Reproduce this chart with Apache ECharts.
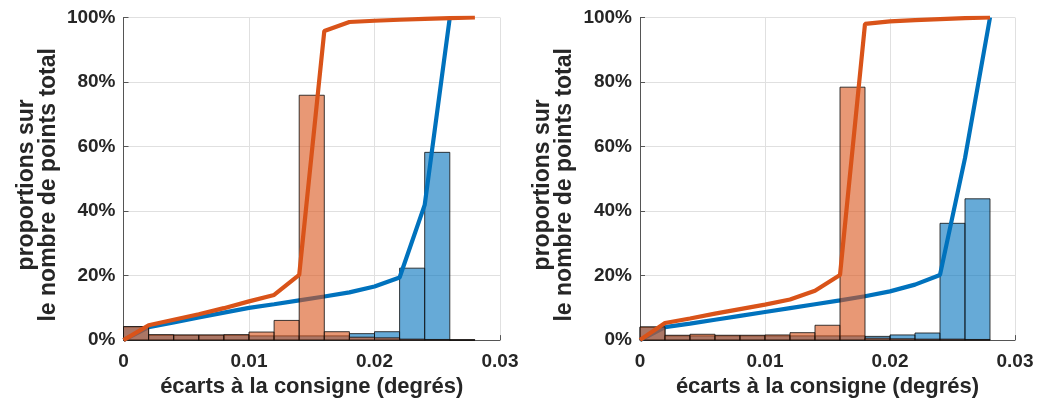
<!DOCTYPE html>
<html>
<head>
<meta charset="utf-8">
<script src="https://cdn.jsdelivr.net/npm/echarts@6/dist/echarts.min.js"></script>
<style>
html,body{margin:0;padding:0;background:#fff;}
#chart{width:1037px;height:403px;}
</style>
</head>
<body>
<div id="chart"></div>
<script>
// ---- data ----
const binEdges = [0, 0.002, 0.004, 0.006, 0.008, 0.010, 0.012, 0.014, 0.016, 0.018, 0.020, 0.022, 0.024, 0.026, 0.028];
const cdfX = [0, 0.002, 0.004, 0.006, 0.008, 0.010, 0.012, 0.014, 0.016, 0.018, 0.020, 0.022, 0.024, 0.026, 0.028];

// left panel (percent per bin)
const leftBlueBins = [4.1, 1.5, 1.5, 1.5, 1.5, 1.3, 1.3, 1.3, 1.3, 2.0, 2.6, 22.3, 58.2, 0];
const leftRedBins  = [4.2, 1.7, 1.6, 1.6, 1.7, 2.5, 6.1, 75.9, 2.6, 0.9, 0.7, 0.3, 0.2, 0.1];
const leftBlueCdf  = [0, 4.0, 5.5, 7.0, 8.5, 10.0, 11.1, 12.3, 13.5, 14.8, 16.6, 19.4, 41.9, 100];
const leftRedCdf   = [0, 4.6, 6.3, 8.0, 9.9, 12.0, 14.0, 20.2, 95.8, 98.6, 99.0, 99.3, 99.6, 99.8, 100];

// right panel
const rightBlueBins = [4.0, 1.3, 1.3, 1.3, 1.3, 1.3, 1.3, 1.3, 1.3, 1.15, 1.6, 2.2, 36.2, 43.8];
const rightRedBins  = [4.1, 1.5, 1.8, 1.5, 1.5, 1.6, 2.3, 4.6, 78.4, 0.6, 0.4, 0.3, 0.3, 0.2];
const rightBlueCdf  = [0, 4.0, 5.1, 6.3, 7.5, 8.7, 9.9, 11.1, 12.3, 13.6, 15.1, 17.2, 20.2, 56.4, 100];
const rightRedCdf   = [0, 5.3, 6.7, 8.2, 9.6, 11.0, 12.6, 15.3, 20.2, 98.0, 98.8, 99.2, 99.5, 99.8, 100];

const xTicks = [0, 0.01, 0.02, 0.03];
const yTicks = [0, 20, 40, 60, 80, 100];
const xTitle = 'écarts à la consigne (degrés)';
const yTitle = 'proportions sur\nle nombre de points total';

// ---- styles ----
const FONT = "'Liberation Sans', Arial, sans-serif";
const TXT = '#262626';
const BLUE = '#0072BD', RED = '#D95319';
const BLUE_FILL = 'rgba(0,114,189,0.6)', RED_FILL = 'rgba(217,83,25,0.6)';

function histData(vals) {
  return vals.map((v, i) => [binEdges[i], binEdges[i + 1], v]);
}
function lineData(vals) {
  return vals.map((v, i) => [cdfX[i], v]);
}
function histSeries(idx, vals, fill, z) {
  return {
    type: 'custom', xAxisIndex: idx, yAxisIndex: idx, z: z,
    data: histData(vals),
    renderItem: function (params, api) {
      const p0 = api.coord([api.value(0), api.value(2)]);
      const p1 = api.coord([api.value(1), 0]);
      return {
        type: 'rect',
        shape: { x: p0[0], y: p0[1], width: p1[0] - p0[0], height: p1[1] - p0[1] },
        style: { fill: fill, stroke: 'rgba(15,15,15,0.9)', lineWidth: 0.9 }
      };
    },
    silent: true
  };
}
function lineSeries(idx, vals, color, z) {
  return {
    type: 'line', xAxisIndex: idx, yAxisIndex: idx, z: z,
    data: lineData(vals), showSymbol: false, symbol: 'none',
    lineStyle: { color: color, width: 4.2 }, silent: true, animation: false
  };
}

const labelStyle = { color: TXT, fontFamily: FONT, fontWeight: 'bold', fontSize: 19 };
const xNameStyle = { color: TXT, fontFamily: FONT, fontWeight: 'bold', fontSize: 22, lineHeight: 22 };
const yNameStyle = { color: TXT, fontFamily: FONT, fontWeight: 'bold', fontSize: 23, lineHeight: 22, padding: [0, 12, 0, 0] };

function xAxis(idx) {
  return {
    type: 'value', gridIndex: idx, min: 0, max: 0.03, interval: 0.01,
    name: xTitle, nameLocation: 'middle', nameGap: 30, nameTextStyle: xNameStyle,
    axisLine: { show: true, onZero: false, lineStyle: { color: '#555', width: 1 } },
    axisTick: { show: true, inside: true, length: 5, lineStyle: { color: '#555' } },
    axisLabel: Object.assign({ margin: 12, formatter: v => String(xTicks.find(t => Math.abs(t - v) < 1e-9) ?? v) }, labelStyle),
    splitLine: { show: true, lineStyle: { color: '#e0e0e0', width: 1 } }
  };
}
function yAxis(idx) {
  return {
    type: 'value', gridIndex: idx, min: 0, max: 100, interval: 20,
    name: yTitle, nameLocation: 'middle', nameGap: 64, nameRotate: 90, nameTextStyle: yNameStyle,
    axisLine: { show: true, lineStyle: { color: '#555', width: 1 } },
    axisTick: { show: true, inside: true, length: 5, lineStyle: { color: '#555' } },
    axisLabel: Object.assign({ margin: 8, formatter: v => (yTicks.includes(v) ? v : v) + '%' }, labelStyle),
    splitLine: { show: true, lineStyle: { color: '#e0e0e0', width: 1 } }
  };
}

const chart = echarts.init(document.getElementById('chart'), null, { renderer: 'canvas' });
chart.setOption({
  animation: false,
  backgroundColor: '#fff',
  grid: [
    { left: 123.5, right: 537, top: 17.5, bottom: 62.5, containLabel: false },
    { left: 640, right: 22, top: 17.5, bottom: 62.5, containLabel: false }
  ],
  xAxis: [xAxis(0), xAxis(1)],
  yAxis: [yAxis(0), yAxis(1)],
  series: [
    histSeries(0, leftBlueBins, BLUE_FILL, 1),
    lineSeries(0, leftBlueCdf, BLUE, 2),
    histSeries(0, leftRedBins, RED_FILL, 3),
    lineSeries(0, leftRedCdf, RED, 4),
    histSeries(1, rightBlueBins, BLUE_FILL, 1),
    lineSeries(1, rightBlueCdf, BLUE, 2),
    histSeries(1, rightRedBins, RED_FILL, 3),
    lineSeries(1, rightRedCdf, RED, 4)
  ]
});
</script>
</body>
</html>
